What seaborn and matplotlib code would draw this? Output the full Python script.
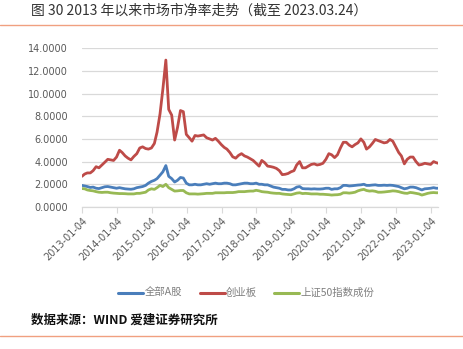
import numpy as np
import pandas as pd
import matplotlib
matplotlib.use("Agg")
import matplotlib.pyplot as plt
import matplotlib.dates as mdates
from matplotlib.lines import Line2D
import seaborn as sns

# Month-start observations, first trading day 2013-01-04, last point 2023-03-24
dates = list(pd.date_range("2013-02-01", "2023-03-01", freq="MS"))
dates = [pd.Timestamp("2013-01-04")] + dates + [pd.Timestamp("2023-03-24")]

series_names = ["全部A股", "创业板", "上证50指数成份"]

all_a = [
    1.90, 1.85, 1.80, 1.72, 1.75, 1.65, 1.62, 1.70, 1.78, 1.80, 1.75, 1.70,
    1.65, 1.70, 1.65, 1.60, 1.58, 1.56, 1.60, 1.70, 1.75, 1.80, 1.90, 2.10,
    2.25, 2.35, 2.50, 2.80, 3.10, 3.65, 2.70, 2.50, 2.20, 2.35, 2.60, 2.55,
    2.10, 1.95, 1.95, 2.00, 1.95, 1.95, 2.00, 2.05, 2.00, 2.05, 2.10, 2.05,
    2.05, 2.10, 2.10, 2.05, 1.95, 1.95, 2.00, 2.05, 2.10, 2.10, 2.05, 2.05,
    2.10, 2.00, 2.00, 1.95, 1.95, 1.85, 1.75, 1.70, 1.65, 1.55, 1.55, 1.50,
    1.50, 1.60, 1.75, 1.80, 1.62, 1.60, 1.60, 1.58, 1.60, 1.58, 1.58, 1.60,
    1.65, 1.65, 1.55, 1.60, 1.60, 1.70, 1.90, 1.90, 1.85, 1.87, 1.90, 1.93,
    1.95, 2.00, 1.90, 1.90, 1.93, 1.95, 1.90, 1.90, 1.92, 1.90, 1.92, 1.90,
    1.85, 1.80, 1.70, 1.60, 1.65, 1.75, 1.75, 1.70, 1.60, 1.50, 1.60, 1.62,
    1.65, 1.70, 1.65, 1.65,
]

chinext = [
    2.70, 2.90, 3.00, 3.00, 3.20, 3.55, 3.45, 3.70, 3.95, 4.20, 4.15, 4.10,
    4.40, 5.00, 4.80, 4.50, 4.30, 4.15, 4.45, 4.70, 5.20, 5.30, 5.15, 5.10,
    5.20, 5.60, 6.60, 8.20, 10.40, 12.95, 8.60, 8.10, 5.90, 7.00, 8.50, 8.40,
    6.40, 6.10, 5.80, 6.30, 6.25, 6.30, 6.35, 6.10, 6.00, 5.90, 6.05, 5.80,
    5.50, 5.25, 5.10, 4.80, 4.42, 4.30, 4.55, 4.70, 4.50, 4.40, 4.25, 4.10,
    3.85, 3.60, 4.10, 3.90, 3.60, 3.56, 3.50, 3.40, 3.20, 2.85, 2.88, 2.95,
    3.10, 3.20, 3.70, 4.00, 3.45, 3.45, 3.60, 3.75, 3.80, 3.70, 3.75, 3.85,
    4.20, 4.70, 4.60, 4.35, 4.60, 5.20, 5.70, 5.70, 5.45, 5.30, 5.50, 5.65,
    6.00, 5.70, 5.10, 5.30, 5.60, 5.95, 5.85, 5.75, 5.65, 5.70, 5.95, 5.80,
    5.30, 4.80, 4.50, 3.80, 4.20, 4.40, 4.40, 4.00, 3.70, 3.75, 3.85, 3.80,
    3.75, 4.00, 3.90, 3.85,
]

sse50 = [
    1.62, 1.60, 1.50, 1.45, 1.42, 1.35, 1.30, 1.28, 1.30, 1.30, 1.25, 1.22,
    1.20, 1.18, 1.18, 1.17, 1.15, 1.15, 1.15, 1.20, 1.20, 1.25, 1.30, 1.50,
    1.60, 1.55, 1.70, 1.90, 1.80, 2.00, 1.70, 1.55, 1.40, 1.42, 1.45, 1.45,
    1.25, 1.15, 1.15, 1.15, 1.13, 1.15, 1.17, 1.20, 1.20, 1.20, 1.25, 1.25,
    1.25, 1.25, 1.27, 1.27, 1.27, 1.30, 1.35, 1.35, 1.35, 1.38, 1.40, 1.40,
    1.47, 1.42, 1.35, 1.32, 1.30, 1.25, 1.22, 1.20, 1.20, 1.15, 1.12, 1.10,
    1.08, 1.15, 1.22, 1.25, 1.18, 1.20, 1.18, 1.15, 1.15, 1.15, 1.12, 1.12,
    1.10, 1.08, 1.05, 1.07, 1.08, 1.12, 1.25, 1.25, 1.22, 1.25, 1.30, 1.42,
    1.50, 1.55, 1.45, 1.40, 1.42, 1.38, 1.30, 1.30, 1.32, 1.35, 1.38, 1.42,
    1.40, 1.35, 1.28, 1.22, 1.20, 1.28, 1.25, 1.20, 1.15, 1.05, 1.12, 1.20,
    1.25, 1.27, 1.25, 1.25,
]

tick_dates = [pd.Timestamp(f"{y}-01-04") for y in range(2013, 2024)]
y_ticks = [0, 2, 4, 6, 8, 10, 12, 14]

colors = ["#4A7EBB", "#BE4B48", "#98B954"]

df = pd.DataFrame({
    "date": dates * 3,
    "pb": all_a + chinext + sse50,
    "series": [series_names[0]] * len(dates) + [series_names[1]] * len(dates)
              + [series_names[2]] * len(dates),
})

sns.set_theme(style="white")
plt.rcParams["font.family"] = ["Noto Sans CJK SC", "DejaVu Sans"]

fig = plt.figure(figsize=(4.63, 3.49), dpi=100)
ax = fig.add_axes([0.177, 0.407, 0.770, 0.455])

sns.lineplot(data=df, x="date", y="pb", hue="series", palette=colors,
             hue_order=series_names, linewidth=2.0, ax=ax, legend=False)

ax.set_xlim(dates[0], dates[-1])
ax.set_ylim(0, 14)
ax.set_yticks(y_ticks)
ax.set_yticklabels([f"{v:.4f}" for v in y_ticks], fontsize=7, color="#595959",
                   family="DejaVu Sans")
ax.set_xticks(tick_dates)
ax.set_xticklabels([d.strftime("%Y-%m-%d") for d in tick_dates], rotation=45,
                   ha="right", rotation_mode="anchor", fontsize=7,
                   color="#595959", family="DejaVu Sans")
ax.set_xlabel("")
ax.set_ylabel("")
ax.grid(axis="y", color="#D9D9D9", linewidth=0.9)
ax.grid(axis="x", visible=False)
ax.set_axisbelow(True)
for side in ["left", "right", "top"]:
    ax.spines[side].set_visible(False)
ax.spines["bottom"].set_color("#D9D9D9")
ax.spines["bottom"].set_linewidth(0.9)
ax.tick_params(axis="x", bottom=True, length=4, width=0.8, color="#D9D9D9", pad=2)
ax.tick_params(axis="y", left=False, pad=4)

handles = [Line2D([0], [0], color=c, linewidth=2.2) for c in colors]
fig.legend(handles, series_names, loc="center", bbox_to_anchor=(0.532, 0.160),
           ncol=3, frameon=False, fontsize=7.5, handlelength=2.4,
           handletextpad=0.1, columnspacing=1.7, labelcolor="#7F7F7F")

fig.text(0.067, 0.968, "图 30 2013 年以来市场市净率走势（截至 2023.03.24）",
         fontsize=10, color="#333333", va="center", ha="left")
fig.add_artist(Line2D([0.0, 1.0], [0.928, 0.928], color="#F0A080", linewidth=1.0,
                      transform=fig.transFigure))
fig.text(0.067, 0.083, "数据来源：WIND 爱建证券研究所", fontsize=9,
         color="#111111", va="center", ha="left", fontweight="bold")
fig.add_artist(Line2D([0.0, 1.0], [0.038, 0.038], color="#F0A080", linewidth=1.0,
                      transform=fig.transFigure))

fig.savefig("out.png", dpi=100)
